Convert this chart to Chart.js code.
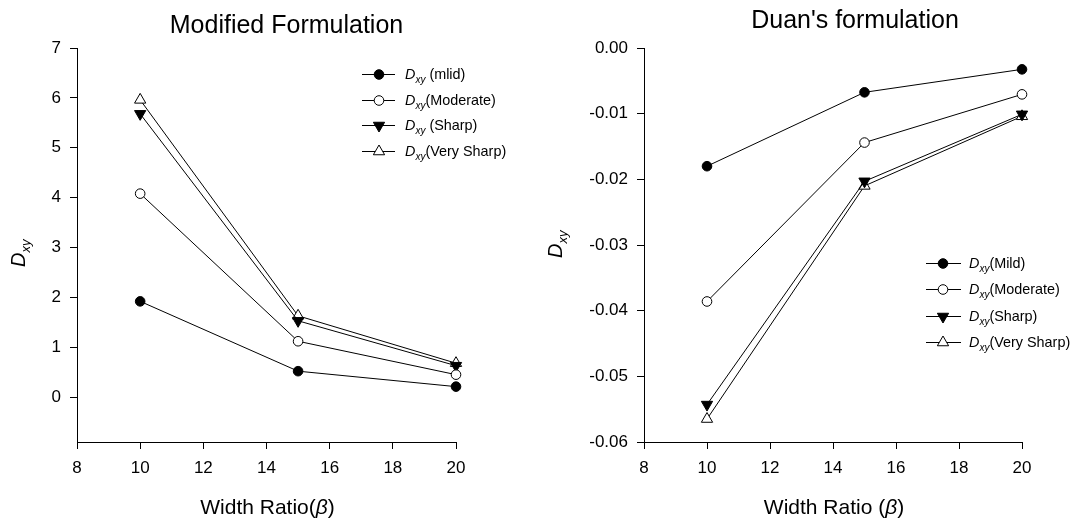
<!DOCTYPE html>
<html>
<head>
<meta charset="utf-8">
<script src="https://cdn.jsdelivr.net/npm/chart.js@4.4.1/dist/chart.umd.min.js"></script>
<style>
  html, body { margin: 0; padding: 0; background: #fff; }
  .box { position: absolute; top: 0; width: 538px; height: 523px; }
</style>
</head>
<body>
<div class="box" style="left:0"><canvas id="c1"></canvas></div>
<div class="box" style="left:538px"><canvas id="c2"></canvas></div>
<script>
// ---------- data ----------
const xValues = [10, 15, 20];
const xTicks = [8, 10, 12, 14, 16, 18, 20];

// Modified Formulation
const modMild      = [1.92, 0.52, 0.21];
const modModerate  = [4.08, 1.12, 0.45];
const modSharp     = [5.68, 1.53, 0.63];
const modVerySharp = [5.96, 1.63, 0.68];
const modYTicks = [0, 1, 2, 3, 4, 5, 6, 7];
const modYLabels = ['0', '1', '2', '3', '4', '5', '6', '7'];
const modLegend = [' (mlid)', '(Moderate)', ' (Sharp)', '(Very Sharp)'];

// Duan's formulation
const duanMild      = [-0.0180, -0.00675, -0.00325];
const duanModerate  = [-0.0386, -0.0144, -0.00706];
const duanSharp     = [-0.0543, -0.0203, -0.0101];
const duanVerySharp = [-0.0565, -0.0210, -0.0104];
const duanYTicks = [0, -0.01, -0.02, -0.03, -0.04, -0.05, -0.06];
const duanYLabels = ['0.00', '-0.01', '-0.02', '-0.03', '-0.04', '-0.05', '-0.06'];
const duanLegend = ['(Mild)', '(Moderate)', '(Sharp)', '(Very Sharp)'];

// ---------- styling ----------
const FONT = '"Liberation Sans", Arial, Helvetica, sans-serif';
Chart.defaults.font.family = FONT;
Chart.defaults.color = '#000';

const seriesStyles = [
  { pointStyle: 'circle',   rotation: 0,   fill: '#000', radius: 4.8 },
  { pointStyle: 'circle',   rotation: 0,   fill: '#fff', radius: 4.8 },
  { pointStyle: 'triangle', rotation: 180, fill: '#000', radius: 6.5 },
  { pointStyle: 'triangle', rotation: 0,   fill: '#fff', radius: 6.5 }
];

function makeDatasets(seriesList) {
  return seriesList.map((vals, i) => {
    const s = seriesStyles[i];
    return {
      data: xValues.map((x, j) => ({ x: x, y: vals[j] })),
      borderColor: '#000',
      borderWidth: 1,
      pointStyle: s.pointStyle,
      pointRotation: s.rotation,
      pointRadius: s.radius,
      pointHoverRadius: s.radius,
      pointBackgroundColor: s.fill,
      pointBorderColor: '#000',
      pointBorderWidth: 1,
      showLine: true,
      tension: 0,
      fill: false,
      clip: false
    };
  });
}

// rich text helper: parts = [{t, italic, size, dy}]
function drawParts(ctx, x, y, parts) {
  let cx = x;
  parts.forEach(p => {
    ctx.font = (p.italic ? 'italic ' : '') + p.size + 'px ' + FONT;
    ctx.fillText(p.t, cx, y + (p.dy || 0));
    cx += ctx.measureText(p.t).width;
  });
  return cx - x;
}
function measureParts(ctx, parts) {
  let w = 0;
  parts.forEach(p => {
    ctx.font = (p.italic ? 'italic ' : '') + p.size + 'px ' + FONT;
    w += ctx.measureText(p.t).width;
  });
  return w;
}

function drawMarker(ctx, style, x, y) {
  ctx.save();
  ctx.fillStyle = style.fill;
  ctx.strokeStyle = '#000';
  ctx.lineWidth = 1;
  ctx.beginPath();
  if (style.pointStyle === 'circle') {
    ctx.arc(x, y, style.radius, 0, Math.PI * 2);
  } else {
    const r = style.radius;
    let rad = style.rotation * Math.PI / 180;
    for (let k = 0; k < 3; k++) {
      const px = x + Math.sin(rad) * r, py = y - Math.cos(rad) * r;
      if (k === 0) ctx.moveTo(px, py); else ctx.lineTo(px, py);
      rad += 2 * Math.PI / 3;
    }
    ctx.closePath();
  }
  ctx.fill();
  ctx.stroke();
  ctx.restore();
}

const decorPlugin = {
  id: 'decor',
  afterDraw(chart, args, o) {
    const ctx = chart.ctx;
    const a = chart.chartArea;
    const cx = (a.left + a.right) / 2;
    ctx.save();
    ctx.fillStyle = '#000';
    ctx.textBaseline = 'alphabetic';
    ctx.textAlign = 'left';

    // chart title
    ctx.font = '25px ' + FONT;
    const tw = ctx.measureText(o.title).width;
    ctx.fillText(o.title, cx + o.titleDX - tw / 2, o.titleBase);

    // x title
    const xp = [
      { t: o.xTitleA, size: 21 },
      { t: 'β', size: 21, italic: true },
      { t: ')', size: 21 }
    ];
    const xw = measureParts(ctx, xp);
    drawParts(ctx, cx + 1 - xw / 2, o.xTitleBase, xp);

    // y title (rotated)
    ctx.save();
    ctx.translate(a.left + o.yTitleDX, o.yTitleBottom);
    ctx.rotate(-Math.PI / 2);
    drawParts(ctx, 0, 0, [
      { t: 'D', size: 20, italic: true },
      { t: 'xy', size: 13, italic: true, dy: 5 }
    ]);
    ctx.restore();

    // legend
    const L = o.legend;
    L.rows.forEach((ry, i) => {
      ctx.save();
      ctx.strokeStyle = '#000';
      ctx.lineWidth = 1;
      ctx.beginPath();
      ctx.moveTo(L.x0, ry + 0.5);
      ctx.lineTo(L.x1, ry + 0.5);
      ctx.stroke();
      ctx.restore();
      drawMarker(ctx, seriesStyles[i], L.xm, ry + 0.5);
      ctx.fillStyle = '#000';
      drawParts(ctx, L.xt, ry + 5, [
        { t: 'D', size: 14.4, italic: true },
        { t: 'xy', size: 10, italic: true, dy: 4 },
        { t: L.labels[i], size: 14.4 }
      ]);
    });
    ctx.restore();
  }
};

function axisCommon() {
  return {
    grid: {
      display: true,
      drawOnChartArea: false,
      drawTicks: true,
      tickLength: 7,
      tickColor: '#000',
      tickWidth: 1,
      color: '#000'
    },
    border: { display: true, color: '#000', width: 1 }
  };
}

function makeChart(id, series, yMin, yMax, yTicks, yLabels, yWidth, padRight, decor) {
  const xAxis = Object.assign(axisCommon(), {
    type: 'linear',
    position: 'bottom',
    min: 8, max: 20,
    afterBuildTicks: s => { s.ticks = xTicks.map(v => ({ value: v })); },
    afterFit: s => { s.height = 81; },
    ticks: {
      font: { size: 17 },
      color: '#000',
      padding: 9,
      maxRotation: 0,
      autoSkip: false,
      callback: v => String(v)
    }
  });
  const yAxis = Object.assign(axisCommon(), {
    type: 'linear',
    position: 'left',
    min: yMin, max: yMax,
    afterBuildTicks: s => { s.ticks = yTicks.map(v => ({ value: v })); },
    afterFit: s => { s.width = yWidth; },
    ticks: {
      font: { size: 17 },
      color: '#000',
      padding: 9,
      autoSkip: false,
      callback: v => { const k = yTicks.indexOf(v); return k >= 0 ? yLabels[k] : ''; }
    }
  });
  return new Chart(document.getElementById(id), {
    type: 'scatter',
    data: { datasets: makeDatasets(series) },
    options: {
      responsive: true,
      maintainAspectRatio: false,
      animation: false,
      devicePixelRatio: 1,
      layout: { padding: { left: 0, top: 48, right: padRight, bottom: 0 } },
      scales: { x: xAxis, y: yAxis },
      plugins: {
        legend: { display: false },
        tooltip: { enabled: false },
        title: { display: false },
        decor: decor
      }
    },
    plugins: [decorPlugin]
  });
}

makeChart('c1',
  [modMild, modModerate, modSharp, modVerySharp],
  -0.9, 7, modYTicks, modYLabels, 77, 82,
  {
    title: 'Modified Formulation', titleDX: 20, titleBase: 33,
    xTitleA: 'Width Ratio(', xTitleBase: 514,
    yTitleDX: -52, yTitleBottom: 267,
    legend: { x0: 362, x1: 395, xm: 379, xt: 405, rows: [74, 100, 125, 151], labels: modLegend }
  });

makeChart('c2',
  [duanMild, duanModerate, duanSharp, duanVerySharp],
  -0.06, 0, duanYTicks, duanYLabels, 106, 54,
  {
    title: "Duan's formulation", titleDX: 22, titleBase: 28,
    xTitleA: 'Width Ratio (', xTitleBase: 514,
    yTitleDX: -82, yTitleBottom: 258,
    legend: { x0: 388, x1: 423, xm: 405, xt: 431, rows: [263, 289, 316, 342], labels: duanLegend }
  });
</script>
</body>
</html>
